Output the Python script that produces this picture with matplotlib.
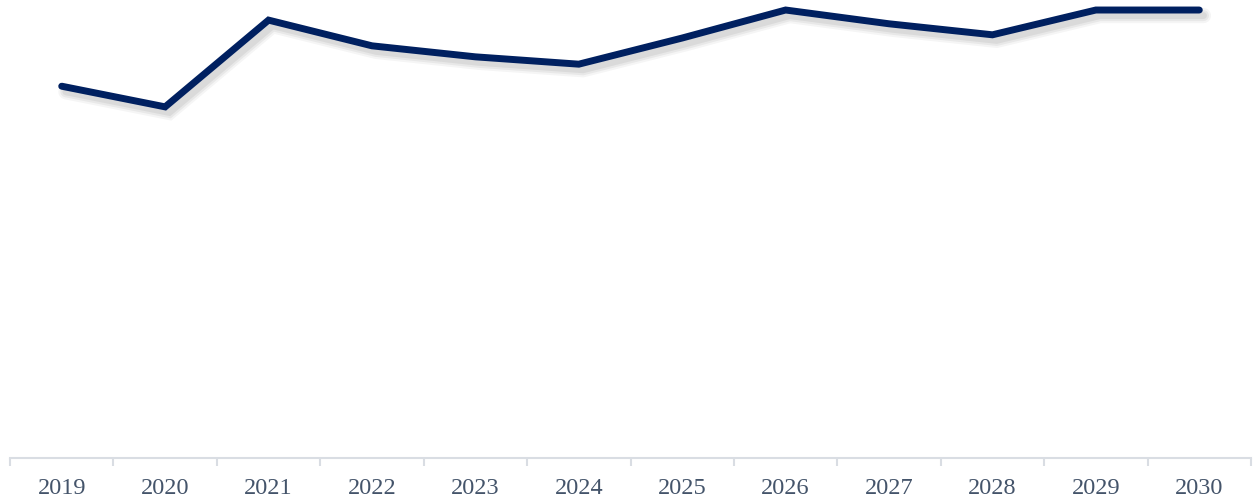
import numpy as np
import matplotlib.pyplot as plt
import matplotlib.patheffects as pe

plt.rcParams["font.family"] = ["Liberation Serif", "DejaVu Serif"]

years = ["2019", "2020", "2021", "2022", "2023", "2024",
         "2025", "2026", "2027", "2028", "2029", "2030"]
values = [81.0, 76.5, 95.4, 89.8, 87.4, 85.8, 91.5, 97.6, 94.6, 92.2, 97.6, 97.6]

fig = plt.figure(figsize=(12.53, 5.02), dpi=100, facecolor="white")
ax = fig.add_axes([10 / 1253, 43 / 502, 1241 / 1253, 459 / 502])

x = np.arange(len(years))
# soft drop shadow built from a few faint layers
shadow = [
    pe.SimpleLineShadow(offset=(3, -4), shadow_color="#000000", alpha=0.04, linewidth=11),
    pe.SimpleLineShadow(offset=(3, -4), shadow_color="#000000", alpha=0.05, linewidth=8),
    pe.SimpleLineShadow(offset=(3, -4), shadow_color="#000000", alpha=0.06, linewidth=5),
    pe.Normal(),
]
ax.plot(x, values, color="#002060", linewidth=5, solid_capstyle="round",
        solid_joinstyle="miter", path_effects=shadow, zorder=3)

ax.set_xlim(-0.5, len(years) - 0.5)
ax.set_ylim(0, 100)

for s in ["top", "right", "left"]:
    ax.spines[s].set_visible(False)
ax.spines["bottom"].set_color("#d9dde3")
ax.spines["bottom"].set_linewidth(1.5)
ax.set_yticks([])

ax.set_xticks(x)
ax.set_xticklabels(years)
ax.tick_params(axis="x", which="major", length=0, pad=14, labelsize=17.5, labelcolor="#44546a")
ax.set_xticks(np.arange(-0.5, len(years)), minor=True)
ax.tick_params(axis="x", which="minor", length=6, width=1.5, color="#d9dde3", direction="out")

fig.savefig("out.png", dpi=100, facecolor="white")
